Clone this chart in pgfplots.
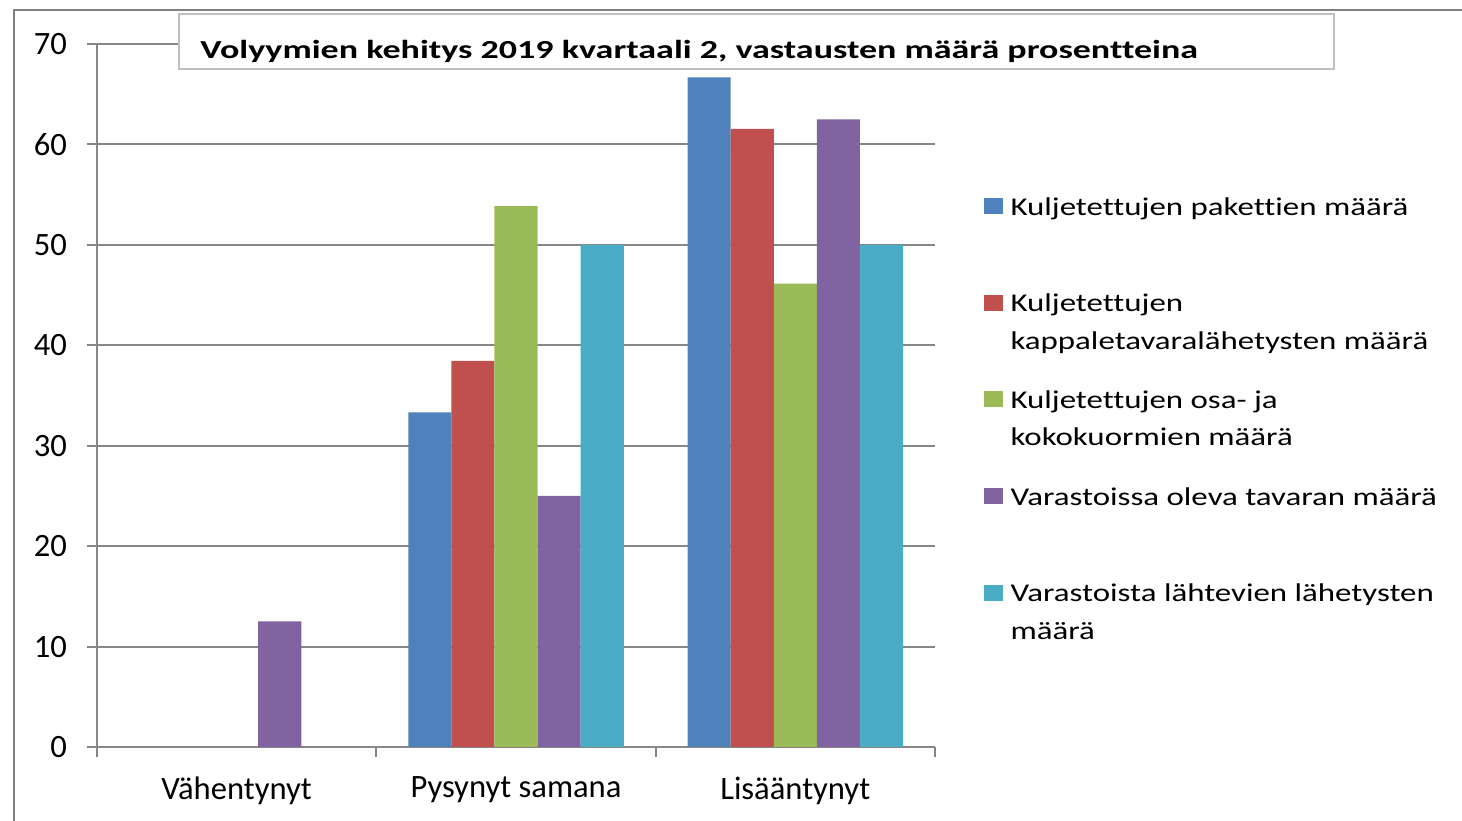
\documentclass[border=0pt]{standalone}
\usepackage{pgfplots}
\pgfplotsset{compat=1.18}
\usepackage{fontspec}
\setmainfont[Ligatures={NoCommon}]{Carlito}
\newfontfamily\legfont[FakeStretch=1.285, Ligatures={NoCommon}]{Carlito}
\newfontfamily\titlefont[FakeStretch=1.385, Ligatures={NoCommon}]{Carlito}
\definecolor{c1}{HTML}{4F81BD}
\definecolor{c2}{HTML}{C0504D}
\definecolor{c3}{HTML}{9BBB59}
\definecolor{c4}{HTML}{8064A2}
\definecolor{c5}{HTML}{4BACC6}
\definecolor{axgray}{HTML}{868686}
\definecolor{boxgray}{HTML}{BFBFBF}
\definecolor{framegray}{HTML}{808080}
\newcommand{\lentry}[1]{\parbox[t][48.35bp][t]{230bp}{\legfont\fontsize{12.8bp}{18.75bp}\selectfont\strut #1}}
\begin{document}
\begin{tikzpicture}
\useasboundingbox (0,0) rectangle (731bp,410.5bp);
\draw[framegray, line width=1bp] (7bp,0) -- (7bp,405.5bp) -- (731bp,405.5bp);
\begin{axis}[
  at={(48.5bp,37bp)}, anchor=south west,
  scale only axis, width=419bp, height=351.5bp,
  xmin=-0.5, xmax=2.5, ymin=0, ymax=70,
  ybar=0pt, bar width=21.55bp,
  axis x line*=bottom, axis y line*=left,
  axis line style={axgray, line width=1bp, -},
  xtick={-0.5,0.5,1.5,2.5},
  x tick label as interval,
  xticklabels={Vähentynyt, Pysynyt samana, Lisääntynyt},
  ytick={0,10,...,70},
  tick align=outside, major tick length=5bp,
  tick style={axgray, line width=1bp},
  ymajorgrids, grid style={axgray, line width=1bp},
  tick label style={font=\fontsize{16.3bp}{19.6bp}\selectfont, text=black},
  yticklabel style={xshift=-6.5bp},
  xticklabel style={yshift=-6.5bp},
  /pgf/number format/assume math mode=true,
  legend style={at={(1.0579,0.7941)}, anchor=north west, draw=none, fill=none,
    inner sep=0pt, outer sep=0pt, column sep=4bp, row sep=0pt,
    cells={anchor=base west}, nodes={inner sep=0pt, text depth=, text height=}},
]
\addplot[fill=c1, draw=none, legend image code/.code={\fill[c1] (0bp,0.5bp) rectangle (9.5bp,8.5bp);}]
  coordinates {(0,0) (1,33.33) (2,66.67)};
\addlegendentry{\lentry{Kuljetettujen pakettien määrä}}
\addplot[fill=c2, draw=none, legend image code/.code={\fill[c2] (0bp,0.5bp) rectangle (9.5bp,8.5bp);}]
  coordinates {(0,0) (1,38.46) (2,61.54)};
\addlegendentry{\lentry{Kuljetettujen\\kappaletavaralähetysten määrä}}
\addplot[fill=c3, draw=none, legend image code/.code={\fill[c3] (0bp,0.5bp) rectangle (9.5bp,8.5bp);}]
  coordinates {(0,0) (1,53.85) (2,46.15)};
\addlegendentry{\lentry{Kuljetettujen osa- ja\\kokokuormien määrä}}
\addplot[fill=c4, draw=none, legend image code/.code={\fill[c4] (0bp,0.5bp) rectangle (9.5bp,8.5bp);}]
  coordinates {(0,12.5) (1,25) (2,62.5)};
\addlegendentry{\lentry{Varastoissa oleva tavaran määrä}}
\addplot[fill=c5, draw=none, legend image code/.code={\fill[c5] (0bp,0.5bp) rectangle (9.5bp,8.5bp);}]
  coordinates {(0,0) (1,50) (2,50)};
\addlegendentry{\lentry{Varastoista lähtevien lähetysten\\määrä}}
\end{axis}
\node[draw=boxgray, line width=1bp, fill=white, anchor=south west, inner sep=0pt,
  minimum width=577.5bp, minimum height=27.5bp] at (89bp,375.5bp) {};
\node[anchor=base west, inner sep=0pt, font=\titlefont\bfseries\fontsize{13bp}{15.6bp}\selectfont]
  at (100bp,381bp) {Volyymien kehitys 2019 kvartaali 2, vastausten määrä prosentteina};
\end{tikzpicture}
\end{document}
